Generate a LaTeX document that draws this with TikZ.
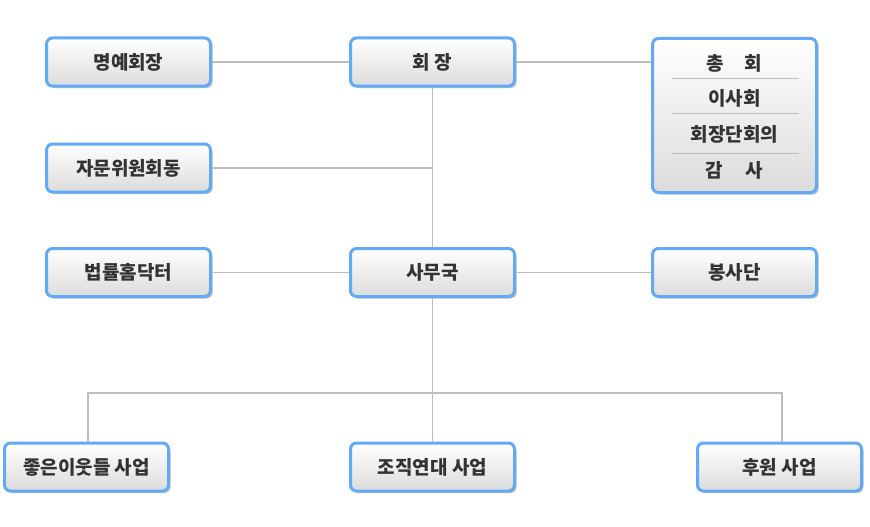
\documentclass[tikz,border=0pt]{standalone}
\usepackage{fontspec}
\setmainfont{Noto Sans CJK KR}
\usetikzlibrary{shadows}
\definecolor{bord}{HTML}{62AAF6}
\definecolor{conn}{HTML}{BDBDBD}
\definecolor{txt}{HTML}{333333}
\definecolor{shadeb}{HTML}{DCDCDC}
\tikzset{
  orgbox/.style={draw=bord, line width=3pt, rounded corners=6pt,
    top color=white, bottom color=shadeb,
    minimum width=164pt, minimum height=48pt, inner sep=0pt,
    text=txt, font=\fontsize{19}{21}\selectfont\bfseries,
    drop shadow={shadow xshift=2pt, shadow yshift=-2pt, opacity=0.25, fill=black}},
  link/.style={draw=conn, line width=1.6pt},
  sepline/.style={draw=conn, line width=0.8pt},
  rowtxt/.style={text=txt, font=\fontsize{19}{21}\selectfont\bfseries, inner sep=0pt}
}
\begin{document}
\begin{tikzpicture}[x=1pt,y=-1pt]
\useasboundingbox (0,0) rectangle (870,527);
\coordinate (lb) at (88,393);
\coordinate (rb) at (782,393);
\coordinate (ja) at (432.5,168);
% nodes
\node[orgbox] (hon) at (128.5,62) {명예회장};
\node[orgbox] (pres) at (432.5,62) {회 장};
\node[orgbox, minimum height=154pt] (gov) at (734.5,115.5) {};
\node[orgbox] (adv) at (128.5,168) {자문위원회동};
\node[orgbox] (law) at (128.5,272.5) {법률홈닥터};
\node[orgbox] (sec) at (432.5,272.5) {사무국};
\node[orgbox] (vol) at (734.5,272.5) {봉사단};
\node[orgbox] (b1) at (86.5,467) {좋은이웃들 사업};
\node[orgbox] (b2) at (432.5,467) {조직연대 사업};
\node[orgbox] (b3) at (779.5,467) {후원 사업};
% rows in governance box
\node[rowtxt] (r1) at (734.5,63) {총\hspace{1.1em}회};
\node[rowtxt] (r2) at (734.5,98) {이사회};
\node[rowtxt] (r3) at (734.5,134) {회장단회의};
\node[rowtxt] (r4) at (734.5,170) {감\hspace{1.2em}사};
\coordinate (s1a) at (672,78.5); \coordinate (s1b) at (799,78.5);
\coordinate (s2a) at (672,113.5); \coordinate (s2b) at (799,113.5);
\coordinate (s3a) at (672,153.5); \coordinate (s3b) at (799,153.5);
\draw[sepline] (s1a) -- (s1b);
\draw[sepline] (s2a) -- (s2b);
\draw[sepline] (s3a) -- (s3b);
% links
\draw[link] (hon.east) -- (pres.west);
\draw[link] (pres.east) -- (gov.west |- pres.east);
\draw[link] (pres.south) -- (sec.north);
\draw[link] (adv.east) -- (ja);
\draw[link] (law.east) -- (sec.west);
\draw[link] (sec.east) -- (vol.west);
\draw[link] (sec.south) -- (b2.north);
\draw[link] (b1.north -| lb) -- (lb) -- (rb) -- (b3.north -| rb);
\end{tikzpicture}
\end{document}
